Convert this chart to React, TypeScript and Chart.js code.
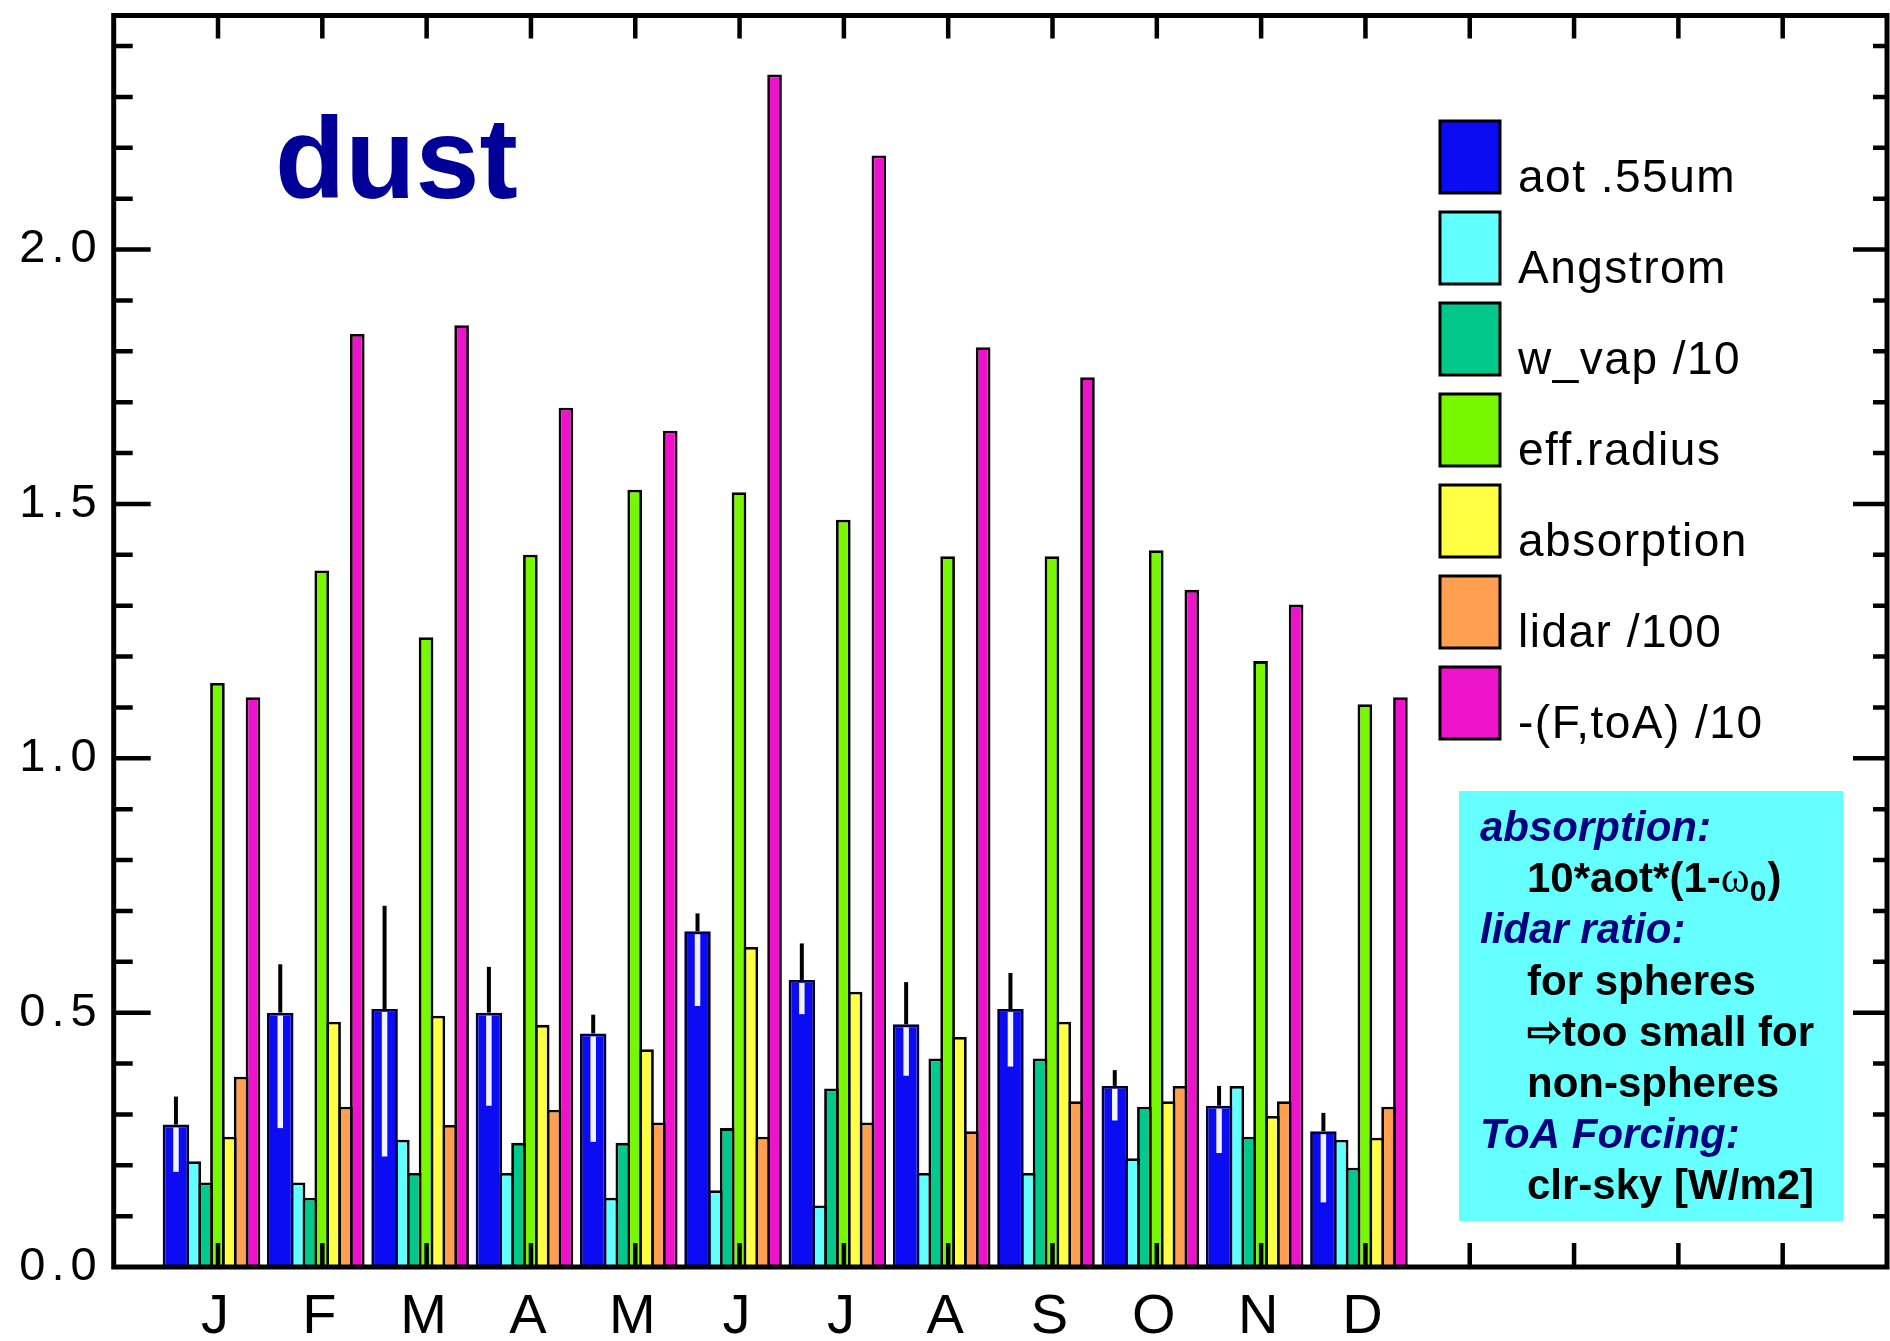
import React, { useEffect, useRef } from 'react';
import { Chart, registerables } from 'chart.js';

Chart.register(...registerables);

// ---------------- data ----------------
const months = ['J', 'F', 'M', 'A', 'M', 'J', 'J', 'A', 'S', 'O', 'N', 'D'];
const aot = [0.28, 0.5, 0.507, 0.5, 0.459, 0.66, 0.564, 0.477, 0.507, 0.356, 0.317, 0.267];
const aotErrHigh = [0.335, 0.595, 0.71, 0.59, 0.496, 0.695, 0.636, 0.56, 0.578, 0.387, 0.356, 0.303];
const aotErrLow = [0.187, 0.273, 0.217, 0.317, 0.246, 0.513, 0.497, 0.376, 0.394, 0.288, 0.224, 0.127];
const angstrom = [0.208, 0.166, 0.25, 0.185, 0.136, 0.151, 0.121, 0.185, 0.185, 0.214, 0.356, 0.25];
const wVap = [0.166, 0.136, 0.185, 0.244, 0.244, 0.273, 0.351, 0.41, 0.41, 0.315, 0.256, 0.195];
const effRadius = [1.148, 1.369, 1.238, 1.4, 1.528, 1.523, 1.469, 1.397, 1.397, 1.409, 1.191, 1.106];
const absorption = [0.256, 0.482, 0.494, 0.476, 0.428, 0.629, 0.541, 0.452, 0.482, 0.326, 0.297, 0.254];
const lidar = [0.374, 0.315, 0.279, 0.309, 0.284, 0.256, 0.284, 0.267, 0.326, 0.356, 0.326, 0.315];
const forcing = [1.12, 1.834, 1.851, 1.689, 1.644, 2.344, 2.185, 1.808, 1.749, 1.331, 1.302, 1.12];
const seriesLabels = ['aot .55um', 'Angstrom', 'w_vap /10', 'eff.radius', 'absorption', 'lidar /100', '-(F,toA) /10'];
const seriesValues = [aot, angstrom, wVap, effRadius, absorption, lidar, forcing];
const yMin = 0;
const yMax = 2.46;
const yStep = 0.5;
const xMax = 17;
const categoryTitle = 'dust';
const noteLines = [
  { text: 'absorption:', head: true },
  { text: '10*aot*(1-', omega: true },
  { text: 'lidar ratio:', head: true },
  { text: 'for spheres' },
  { text: '\u21E8too small for' },
  { text: 'non-spheres' },
  { text: 'ToA Forcing:', head: true },
  { text: 'clr-sky [W/m2]' },
];

// ---------------- styles / layout ----------------
const COLORS = ['#0b0bf4', '#62ffff', '#00c98b', '#78f800', '#ffff44', '#ffa050', '#ee12cc'];
const BORDER_COLORS = ['#00003c', '#050505', '#050505', '#050505', '#050505', '#050505', '#150010'];
const W = 1890;
const H = 1341;
const MONTH_PX = 104.3;
const PITCH = 11.85;
const BORDER = 2.8;
const GROUP_START = -53.9;
const SLOTS = [
  { start: 0, span: 2 },
  { start: 2, span: 1 },
  { start: 3, span: 1 },
  { start: 4, span: 1 },
  { start: 5, span: 1 },
  { start: 6, span: 1 },
  { start: 7, span: 1 },
];
const SANS = '"Liberation Sans", Arial, Helvetica, sans-serif';

function slotOffset(d: number) {
  const s = SLOTS[d];
  return (GROUP_START + PITCH * (s.start + s.span / 2)) / MONTH_PX;
}

const overlayPlugin = {
  id: 'overlay',
  beforeDraw(chart: any) {
    chart.ctx.letterSpacing = '6px';
  },
  afterDatasetsDraw(chart: any) {
    const { ctx, chartArea: a, scales } = chart;
    const x = scales.x;
    const y = scales.y;
    ctx.save();
    ctx.letterSpacing = '0px';
    // error bars on aot
    const off = slotOffset(0);
    for (let i = 0; i < aot.length; i++) {
      const px = x.getPixelForValue(i + 1 + off);
      const top = y.getPixelForValue(aot[i]);
      ctx.lineCap = 'butt';
      ctx.strokeStyle = '#000000';
      ctx.lineWidth = 4;
      ctx.beginPath();
      ctx.moveTo(px, top);
      ctx.lineTo(px, y.getPixelForValue(aotErrHigh[i]));
      ctx.stroke();
      ctx.strokeStyle = '#f2f2ff';
      ctx.lineWidth = 5.5;
      ctx.beginPath();
      ctx.moveTo(px, top + 3);
      ctx.lineTo(px, y.getPixelForValue(aotErrLow[i]));
      ctx.stroke();
    }
    // frame
    ctx.strokeStyle = '#000';
    ctx.lineWidth = 5;
    ctx.strokeRect(a.left, a.top, a.right - a.left, a.bottom - a.top);
    // x ticks (top and bottom)
    ctx.lineWidth = 4.5;
    for (let v = 1; v < xMax; v++) {
      const px = x.getPixelForValue(v);
      ctx.beginPath();
      ctx.moveTo(px, a.bottom);
      ctx.lineTo(px, a.bottom - 24);
      ctx.moveTo(px, a.top);
      ctx.lineTo(px, a.top + 23);
      ctx.stroke();
    }
    // y ticks (left and right)
    for (let k = 1; k * 0.1 < yMax; k++) {
      const py = y.getPixelForValue(k * 0.1);
      const major = k % 5 === 0;
      ctx.beginPath();
      ctx.moveTo(a.left, py);
      ctx.lineTo(a.left + (major ? 37 : 19), py);
      ctx.moveTo(a.right, py);
      ctx.lineTo(a.right - (major ? 34 : 14), py);
      ctx.stroke();
    }
    ctx.restore();
  },
  afterDraw(chart: any) {
    const ctx = chart.ctx;
    ctx.save();
    ctx.letterSpacing = '0px';
    // category title
    ctx.fillStyle = '#000099';
    ctx.font = `bold 115px ${SANS}`;
    ctx.textAlign = 'left';
    ctx.textBaseline = 'alphabetic';
    ctx.fillText(categoryTitle, 275, 198);
    // legend
    const lx = 1440;
    const top0 = 121;
    const pitch = 91;
    const bw = 60;
    const bh = 72;
    ctx.font = `46px ${SANS}`;
    ctx.letterSpacing = '1.5px';
    ctx.fillStyle = '#000';
    chart.data.datasets.forEach((ds: any, i: number) => {
      const by = top0 + i * pitch;
      ctx.fillStyle = ds.backgroundColor;
      ctx.fillRect(lx, by, bw, bh);
      ctx.strokeStyle = '#000';
      ctx.lineWidth = 3;
      ctx.strokeRect(lx, by, bw, bh);
      ctx.fillStyle = '#000';
      ctx.fillText(ds.label, 1518, by + bh - 1);
    });
    ctx.letterSpacing = '0px';
    // note box
    ctx.fillStyle = '#66ffff';
    ctx.fillRect(1459, 791, 384, 430);
    noteLines.forEach((ln: any, k: number) => {
      const base = 841 + 51.2 * k;
      if (ln.head) {
        ctx.font = `italic bold 42px ${SANS}`;
        ctx.fillStyle = '#000080';
        ctx.fillText(ln.text, 1480, base);
      } else {
        ctx.font = `bold 42px ${SANS}`;
        ctx.fillStyle = '#000';
        ctx.fillText(ln.text, 1527, base);
        if (ln.omega) {
          let cx = 1527 + ctx.measureText(ln.text).width;
          ctx.font = `44px "Liberation Serif", "DejaVu Serif", serif`;
          ctx.fillText('\u03C9', cx, base);
          cx += ctx.measureText('\u03C9').width;
          ctx.font = `bold 30px ${SANS}`;
          ctx.fillText('0', cx, base + 9);
          cx += ctx.measureText('0').width + 1;
          ctx.font = `bold 42px ${SANS}`;
          ctx.fillText(')', cx, base);
        }
      }
    });
    ctx.restore();
  },
};

export default function App() {
  const ref = useRef<HTMLCanvasElement | null>(null);
  useEffect(() => {
    document.body.style.margin = '0';
    const canvas = ref.current;
    if (!canvas) return;
    const datasets = seriesValues.map((vals, d) => ({
      label: seriesLabels[d],
      data: vals.map((v, i) => ({ x: i + 1 + slotOffset(d), y: v })),
      backgroundColor: COLORS[d],
      borderColor: BORDER_COLORS[d],
      borderWidth: { top: BORDER, left: BORDER, right: BORDER, bottom: 0 },
      borderSkipped: 'start',
      barThickness: PITCH * SLOTS[d].span + BORDER,
      grouped: false,
      inflateAmount: 0,
    }));
    const chart = new Chart(canvas, {
      type: 'bar',
      data: { datasets } as any,
      options: {
        animation: false,
        responsive: false,
        devicePixelRatio: 1,
        layout: { padding: { top: 15.5, right: 3, left: 0, bottom: 0 } },
        plugins: { legend: { display: false }, tooltip: { enabled: false } },
        scales: {
          x: {
            type: 'linear',
            min: 0,
            max: xMax,
            offset: false,
            grid: { display: false, drawTicks: false },
            border: { display: false },
            afterFit: (s: any) => {
              s.height = 74;
              s.paddingLeft = 0;
              s.paddingRight = 0;
            },
            ticks: {
              stepSize: 1,
              autoSkip: false,
              maxRotation: 0,
              padding: 17,
              color: '#000',
              font: { family: SANS, size: 56 },
              callback: (v: any) => (Number.isInteger(v) && v >= 1 && v <= months.length ? months[v - 1] : ''),
            },
          },
          y: {
            type: 'linear',
            min: yMin,
            max: yMax,
            grid: { display: false, drawTicks: false },
            border: { display: false },
            afterFit: (s: any) => {
              s.width = 113.7;
              s.paddingTop = 0;
              s.paddingBottom = 0;
            },
            ticks: {
              stepSize: yStep,
              includeBounds: false,
              padding: 11,
              color: '#000',
              font: { family: SANS, size: 47 },
              callback: (v: any) => Number(v).toFixed(1),
            },
          },
        },
      } as any,
      plugins: [overlayPlugin],
    });
    return () => chart.destroy();
  }, []);
  return (
    <div style={{ position: 'fixed', left: 0, top: 0, width: W, height: H, background: '#fff' }}>
      <canvas ref={ref} width={W} height={H} style={{ display: 'block' }} />
    </div>
  );
}
